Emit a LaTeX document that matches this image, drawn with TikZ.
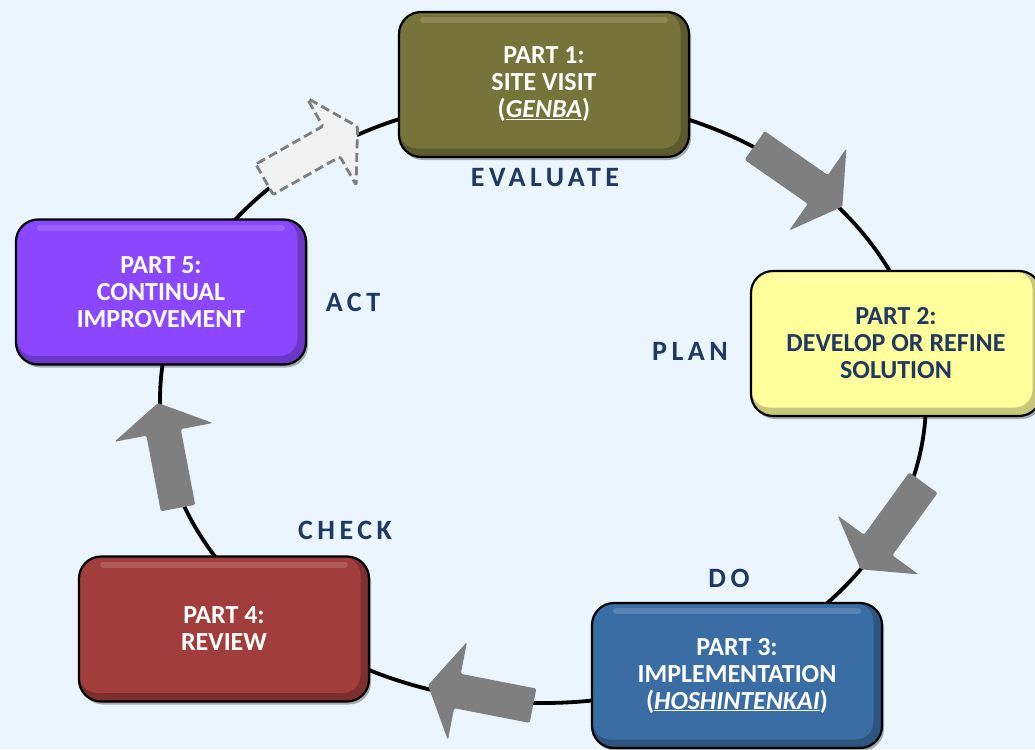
\documentclass[tikz,border=0pt]{standalone}
\usepackage{fontspec}
\setmainfont{Carlito}
\newfontfamily\spacedfont[LetterSpace=16]{Carlito}
\usetikzlibrary{shadows}
\definecolor{bg}{HTML}{EAF5FD}
\definecolor{navy}{HTML}{1F3864}
\definecolor{olive}{HTML}{76743A}
\definecolor{ylw}{HTML}{FFFF9C}
\definecolor{blu}{HTML}{3A6DA4}
\definecolor{redb}{HTML}{A13D3A}
\definecolor{purp}{HTML}{8B47FF}
\definecolor{arrowgray}{HTML}{7F7F7F}
\definecolor{ghost}{HTML}{F2F2F2}
\tikzset{
  partbox/.style={draw=black, line width=2.2pt, rounded corners=22pt,
    minimum width=290pt, minimum height=145pt, align=center,
    font=\fontsize{26}{27}\selectfont\bfseries, text=white,
    drop shadow={shadow xshift=2pt, shadow yshift=-3pt, opacity=.3, fill=black},
    path picture={
      \draw[black, opacity=.22, line width=9pt, rounded corners=22pt]
        ([xshift=-4pt,yshift=4pt]path picture bounding box.south west) rectangle
        ([xshift=-4pt,yshift=4pt]path picture bounding box.north east);
      \draw[white, opacity=.15, line width=6pt, line cap=round]
        ([xshift=24pt,yshift=-8pt]path picture bounding box.north west) --
        ([xshift=-24pt,yshift=-8pt]path picture bounding box.north east);
    }},
  phase/.style={text=navy, font=\fontsize{28}{28}\selectfont\spacedfont\bfseries},
  solidarrow/.style={fill=arrowgray},
  ghostarrow/.style={fill=ghost, draw=arrowgray, line width=2.8pt, dash pattern=on 9pt off 4.5pt},
  blockarrow/.pic={
    \path[pic actions, rounded corners=1.5pt]
      (-53.5,-17.5) -- (23.5,-17.5) -- (23.5,-50) -- (53.5,0) --
      (23.5,50) -- (23.5,17.5) -- (-53.5,17.5) -- cycle;
  }
}
\begin{document}
\begin{tikzpicture}[x=1pt, y=-1pt]
  \useasboundingbox (0,0) rectangle (1035,749);
  \clip (0,0) rectangle (1035,749);
  \fill[bg] (0,0) rectangle (1035,749);
  % ring
  \draw[line width=3.8pt, black] (543,400) ellipse [x radius=383, y radius=303];
  % arrows
  \pic[ghostarrow, rotate=29.5] at (311,153) {blockarrow};
  \pic[solidarrow, rotate=-34.9] at (798.5,176) {blockarrow};
  \pic[solidarrow, rotate=-126] at (892,526) {blockarrow};
  \pic[solidarrow, rotate=169] at (480.5,695.5) {blockarrow};
  \pic[solidarrow, rotate=100.8] at (168,455.5) {blockarrow};
  % boxes
  \node[partbox, fill=olive] (p1) at (544,84.5) {PART 1:\\SITE VISIT\\(\underline{\textit{GENBA}})};
  \node[partbox, fill=ylw, text=navy] (p2) at (896,343.5) {PART 2:\\DEVELOP OR REFINE\\SOLUTION};
  \node[partbox, fill=blu] (p3) at (737,675.5) {PART 3:\\IMPLEMENTATION\\(\underline{\textit{HOSHINTENKAI}})};
  \node[partbox, fill=redb] (p4) at (224,629) {PART 4:\\REVIEW};
  \node[partbox, fill=purp] (p5) at (161,292) {PART 5:\\CONTINUAL\\IMPROVEMENT};
  % phase labels
  \node[phase] (evaluate) at (545,177.5) {EVALUATE};
  \node[phase] (plan) at (690,351) {PLAN};
  \node[phase] (do) at (729,578) {DO};
  \node[phase] (check) at (345,530.5) {CHECK};
  \node[phase] (act) at (353,302.5) {ACT};
\end{tikzpicture}
\end{document}
